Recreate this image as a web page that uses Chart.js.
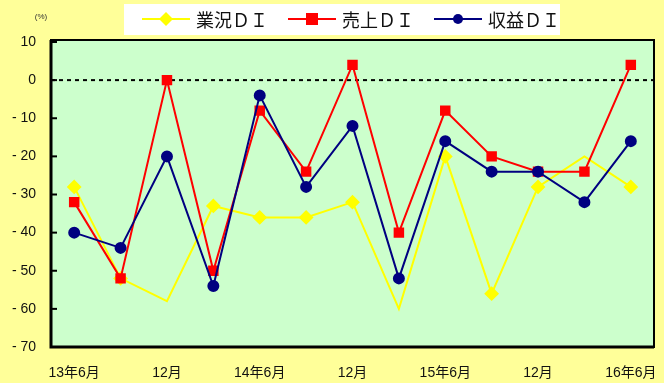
<!DOCTYPE html>
<html>
<head>
<meta charset="utf-8">
<script src="https://cdn.jsdelivr.net/npm/chart.js@4/dist/chart.umd.min.js"></script>
<style>
  html, body { margin: 0; padding: 0; background: #ffff99; }
  #wrap { position: relative; width: 664px; height: 383px; }
</style>
</head>
<body>
<div id="wrap"><canvas id="diChart" width="664" height="383"></canvas></div>
<script>
const quarters = ['13年6月', '13年9月', '13年12月', '14年3月', '14年6月', '14年9月', '14年12月',
  '15年3月', '15年6月', '15年9月', '15年12月', '16年3月', '16年6月'];
const tickLabels = ['13年6月', '', '12月', '', '14年6月', '', '12月', '', '15年6月', '', '12月', '', '16年6月'];
const gyokyo = [-28, -52, -58, -33, -36, -36, -32, -60, -20, -56, -28, -20, -28];
const uriage = [-32, -52, 0, -50, -8, -24, 4, -40, -8, -20, -24, -24, 4];
const shueki = [-40, -44, -20, -54, -4, -28, -12, -52, -16, -24, -24, -32, -16];
const seriesNames = ['業況ＤＩ', '売上ＤＩ', '収益ＤＩ'];

const C = {
  page: '#ffff99',
  plot: '#ccffcc',
  yellow: '#ffff00',
  red: '#ff0000',
  navy: '#000080',
  ink: '#000000',
};
const FONT = "'Liberation Sans', 'Noto Sans CJK JP', sans-serif";

// background, frame, inward ticks, zero line, legend box
const decor = {
  id: 'decor',
  beforeDraw(chart) {
    const { ctx, chartArea: a } = chart;
    ctx.save();
    ctx.fillStyle = C.page;
    ctx.fillRect(0, 0, chart.width, chart.height);
    ctx.fillStyle = C.plot;
    ctx.fillRect(a.left, a.top - 2, a.right - a.left, a.bottom - a.top + 2);
    // zero line
    const y0 = chart.scales.y.getPixelForValue(0);
    ctx.strokeStyle = C.ink;
    ctx.lineWidth = 2;
    ctx.setLineDash([4, 4]);
    ctx.beginPath();
    ctx.moveTo(a.left, y0);
    ctx.lineTo(a.right, y0);
    ctx.stroke();
    ctx.restore();
  },
  afterDatasetsDraw(chart) {
    const { ctx, chartArea: a } = chart;
    ctx.save();
    ctx.strokeStyle = C.ink;
    ctx.lineWidth = 2;
    ctx.strokeRect(a.left, a.top - 2, a.right - a.left, a.bottom - a.top + 2);
    ctx.lineWidth = 3;
    ctx.beginPath();
    ctx.moveTo(a.left, a.top - 2);
    ctx.lineTo(a.left, a.bottom);
    ctx.lineTo(a.right, a.bottom);
    ctx.stroke();
    ctx.lineWidth = 2;
    chart.scales.y.ticks.forEach(t => {
      const y = chart.scales.y.getPixelForValue(t.value);
      ctx.beginPath();
      ctx.moveTo(a.left, y);
      ctx.lineTo(a.left + 6, y);
      ctx.stroke();
    });
    // unit
    ctx.fillStyle = '#333';
    ctx.font = "8px " + FONT;
    ctx.textAlign = 'center';
    ctx.textBaseline = 'middle';
    ctx.fillText('(%)', 41, 17);

    // legend
    ctx.font = "18px 'Noto Sans CJK JP', sans-serif";
    const items = chart.data.datasets;
    const lineLen = 48, gapText = 6, gapItem = 20;
    const boxL = 124, boxR = 560;
    ctx.fillStyle = '#ffffff';
    ctx.fillRect(boxL, 4, boxR - boxL, 31);
    let x = 142;
    const ly = 19;
    items.forEach(d => {
      ctx.strokeStyle = d.borderColor;
      ctx.lineWidth = 2;
      ctx.beginPath();
      ctx.moveTo(x, ly);
      ctx.lineTo(x + lineLen, ly);
      ctx.stroke();
      ctx.fillStyle = d.pointBackgroundColor;
      ctx.beginPath();
      const r = d.legendRadius;
      const cx = x + lineLen / 2;
      if (d.pointStyle === 'rectRot') {
        ctx.moveTo(cx, ly - r); ctx.lineTo(cx + r, ly); ctx.lineTo(cx, ly + r); ctx.lineTo(cx - r, ly); ctx.closePath();
      } else if (d.pointStyle === 'rect') {
        ctx.rect(cx - r, ly - r, 2 * r, 2 * r);
      } else {
        ctx.arc(cx, ly, r, 0, Math.PI * 2);
      }
      ctx.fill();
      x += lineLen + gapText;
      ctx.fillStyle = '#111';
      ctx.textAlign = 'left';
      ctx.fillText(d.label, x, ly + 1);
      x += Math.max(72, ctx.measureText(d.label).width) + gapItem;
    });
    ctx.restore();
  },
};

new Chart(document.getElementById('diChart'), {
  type: 'line',
  data: {
    labels: quarters,
    datasets: [{
      label: seriesNames[0],
      data: gyokyo,
      borderColor: C.yellow,
      backgroundColor: C.yellow,
      pointBackgroundColor: C.yellow,
      pointBorderColor: C.yellow,
      pointStyle: 'rectRot',
      pointRadius: [6, 6, 0, 6, 6, 6, 6, 0, 6, 6, 6, 0, 6],
      legendRadius: 7,
      borderWidth: 2,
      tension: 0,
      order: 3,
    }, {
      label: seriesNames[1],
      data: uriage,
      borderColor: C.red,
      backgroundColor: C.red,
      pointBackgroundColor: C.red,
      pointBorderColor: C.red,
      pointStyle: 'rect',
      pointRadius: 6,
      legendRadius: 6,
      borderWidth: 2,
      tension: 0,
      order: 2,
    }, {
      label: seriesNames[2],
      data: shueki,
      borderColor: C.navy,
      backgroundColor: C.navy,
      pointBackgroundColor: C.navy,
      pointBorderColor: C.navy,
      pointStyle: 'circle',
      pointRadius: 5,
      legendRadius: 5,
      borderWidth: 2,
      tension: 0,
      order: 1,
    }],
  },
  options: {
    responsive: false,
    animation: false,
    layout: { padding: { top: 42, right: 10, left: 0, bottom: 0 } },
    plugins: { legend: { display: false }, tooltip: { enabled: false } },
    scales: {
      x: {
        offset: true,
        grid: { display: false, drawTicks: false },
        border: { display: false },
        afterFit: s => { s.height = 36; s.paddingLeft = 0; s.paddingRight = 0; },
        ticks: {
          autoSkip: false,
          maxRotation: 0,
          padding: 18,
          color: '#111',
          font: { size: 14, family: FONT },
          callback: (v, i) => tickLabels[i],
        },
      },
      y: {
        min: -70,
        max: 10,
        grid: { display: false, drawTicks: false },
        border: { display: false },
        afterFit: s => { s.width = 51; },
        ticks: {
          stepSize: 10,
          padding: 15,
          color: '#111',
          font: { size: 14, family: FONT },
          callback: v => (v < 0 ? '- ' + (-v) : String(v)),
        },
      },
    },
  },
  plugins: [decor],
});
</script>
</body>
</html>
